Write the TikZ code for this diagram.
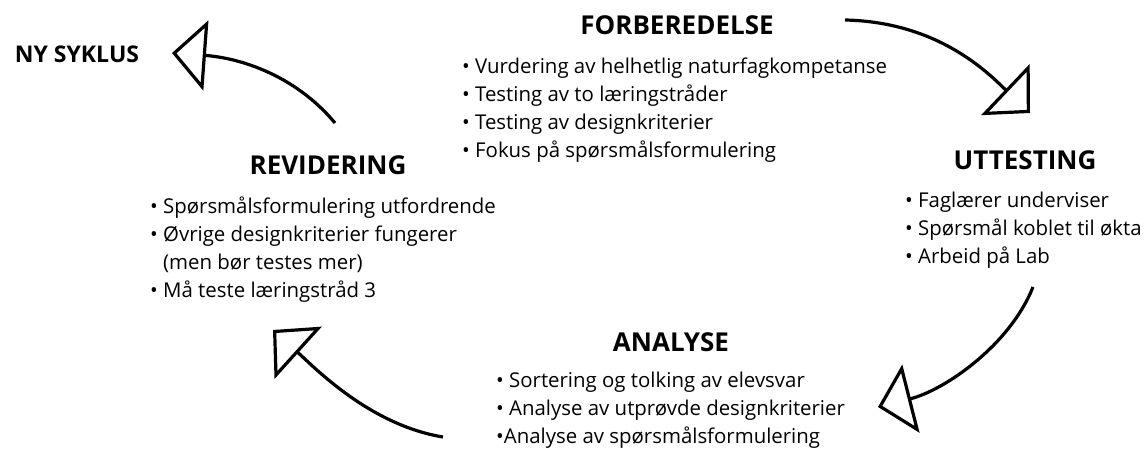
\documentclass[tikz,border=0pt]{standalone}
\usepackage{fontspec}
\setmainfont{Open Sans}
\usetikzlibrary{arrows.meta}

\begin{document}
\begin{tikzpicture}[x=1pt,y=-1pt,
  cyclehead/.style={font=\fontsize{26}{30}\selectfont\bfseries,inner sep=0pt},
  cycleitem/.style={font=\fontsize{20.4}{28}\selectfont,align=left,anchor=base west,inner sep=0pt},
  cyclearrow/.style={line width=3.2pt,-{Triangle[open,width=70pt,length=34pt,line width=3.2pt]}}
]
  \useasboundingbox (0,0) rectangle (1145,449);

  % Phase titles
  \node[cyclehead] (forb) at (677,25) {FORBEREDELSE};
  \node[cyclehead] (utt) at (1025,160) {UTTESTING};
  \node[cyclehead] (ana) at (671,342) {ANALYSE};
  \node[cyclehead] (rev) at (328,165) {REVIDERING};
  \node[cyclehead,font=\fontsize{23}{26}\selectfont\bfseries] (ny) at (77,54) {NY SYKLUS};

  % Bullet lists (placed by the baseline of their last line)
  \node[cycleitem] (forbitems) at (462,158) {%
    • Vurdering av helhetlig naturfagkompetanse\\
    • Testing av to læringstråder\\
    • Testing av designkriterier\\
    • Fokus på spørsmålsformulering};
  \node[cycleitem] (uttitems) at (905,263) {%
    • Faglærer underviser\\
    • Spørsmål koblet til økta\\
    • Arbeid på Lab};
  \node[cycleitem] (anaitems) at (496,443) {%
    • Sortering og tolking av elevsvar\\
    • Analyse av utprøvde designkriterier\\
    •Analyse av spørsmålsformulering};
  \node[cycleitem] (revitems) at (150,297) {%
    • Spørsmålsformulering utfordrende\\
    • Øvrige designkriterier fungerer\\
    \phantom{• }(men bør testes mer)\\
    • Må teste læringstråd 3};

  % Arrow ends
  \coordinate (a1s) at (845,20);
  \coordinate (a1t) at (1030,113);
  \coordinate (a2s) at (1033,287);
  \coordinate (a2t) at (878,407);
  \coordinate (a3s) at (443,437);
  \coordinate (a3t) at (273,330);
  \coordinate (a4s) at (335,123);
  \coordinate (a4t) at (172,53);

  % Cycle arrows
  \draw[cyclearrow] (a1s) .. controls (940,22) and (990,75) .. (a1t);
  \draw[cyclearrow] (a2s) .. controls (1010,345) and (945,390) .. (a2t);
  \draw[cyclearrow] (a3s) .. controls (370,425) and (315,368) .. (a3t);
  \draw[cyclearrow] (a4s) .. controls (295,75) and (240,58) .. (a4t);
\end{tikzpicture}
\end{document}
